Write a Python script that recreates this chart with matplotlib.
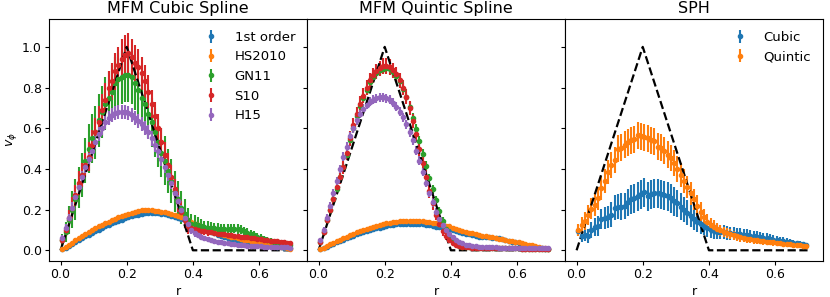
import matplotlib
matplotlib.use("Agg")
import matplotlib.pyplot as plt
import numpy as np

# radial bin centres
r = np.linspace(0.005, 0.695, 70)

# analytic Gresho vortex profile (vertices)
r_exact = [0.0, 0.2, 0.4, 0.705]
v_exact = [0.0, 1.0, 0.0, 0.0]

# ---------------- MFM cubic spline ----------------
cub_first = [0.004, 0.012, 0.021, 0.031, 0.040, 0.050, 0.059, 0.068, 0.077, 0.086,
             0.094, 0.102, 0.110, 0.118, 0.125, 0.132, 0.139, 0.145, 0.151, 0.157,
             0.162, 0.167, 0.171, 0.175, 0.178, 0.181, 0.182, 0.183, 0.183, 0.182,
             0.180, 0.177, 0.174, 0.170, 0.166, 0.161, 0.155, 0.149, 0.142, 0.135,
             0.127, 0.119, 0.111, 0.104, 0.097, 0.090, 0.083, 0.077, 0.071, 0.066,
             0.061, 0.056, 0.052, 0.048, 0.044, 0.041, 0.038, 0.035, 0.032, 0.030,
             0.027, 0.025, 0.023, 0.021, 0.019, 0.017, 0.015, 0.013, 0.011, 0.009]
cub_hs = [0.006, 0.016, 0.027, 0.038, 0.049, 0.060, 0.070, 0.080, 0.090, 0.099,
          0.108, 0.117, 0.125, 0.133, 0.141, 0.148, 0.155, 0.162, 0.168, 0.174,
          0.180, 0.185, 0.189, 0.193, 0.196, 0.197, 0.197, 0.196, 0.195, 0.193,
          0.190, 0.187, 0.183, 0.179, 0.174, 0.168, 0.162, 0.155, 0.147, 0.139,
          0.131, 0.123, 0.115, 0.108, 0.101, 0.095, 0.089, 0.084, 0.079, 0.075,
          0.071, 0.067, 0.063, 0.059, 0.055, 0.052, 0.049, 0.046, 0.043, 0.040,
          0.037, 0.034, 0.031, 0.028, 0.025, 0.022, 0.018, 0.014, 0.010, 0.006]
cub_gn = [0.05, 0.09, 0.15, 0.20, 0.25, 0.31, 0.37, 0.44, 0.50, 0.55,
          0.58, 0.64, 0.68, 0.72, 0.75, 0.78, 0.82, 0.84, 0.85, 0.86,
          0.86, 0.85, 0.82, 0.79, 0.75, 0.72, 0.67, 0.63, 0.58, 0.53,
          0.48, 0.44, 0.39, 0.34, 0.29, 0.25, 0.21, 0.18, 0.15, 0.13,
          0.130, 0.125, 0.120, 0.115, 0.112, 0.110, 0.108, 0.106, 0.105, 0.104,
          0.104, 0.105, 0.106, 0.104, 0.100, 0.094, 0.087, 0.080, 0.073, 0.066,
          0.060, 0.055, 0.050, 0.046, 0.042, 0.038, 0.034, 0.031, 0.028, 0.025]
cub_s10 = [0.05, 0.10, 0.16, 0.21, 0.27, 0.33, 0.37, 0.42, 0.46, 0.52,
           0.58, 0.63, 0.69, 0.74, 0.80, 0.83, 0.88, 0.91, 0.94, 0.96,
           0.97, 0.95, 0.92, 0.90, 0.87, 0.83, 0.78, 0.72, 0.66, 0.60,
           0.53, 0.47, 0.42, 0.36, 0.30, 0.24, 0.19, 0.15, 0.12, 0.11,
           0.105, 0.101, 0.097, 0.094, 0.091, 0.088, 0.085, 0.082, 0.080, 0.078,
           0.075, 0.073, 0.071, 0.069, 0.067, 0.065, 0.063, 0.061, 0.058, 0.056,
           0.054, 0.052, 0.050, 0.048, 0.046, 0.044, 0.042, 0.040, 0.037, 0.034]
cub_h15 = [0.06, 0.11, 0.16, 0.21, 0.26, 0.31, 0.36, 0.41, 0.45, 0.49,
           0.53, 0.57, 0.60, 0.63, 0.65, 0.665, 0.675, 0.68, 0.68, 0.68,
           0.675, 0.665, 0.65, 0.635, 0.62, 0.60, 0.58, 0.55, 0.52, 0.49,
           0.45, 0.41, 0.37, 0.33, 0.28, 0.24, 0.20, 0.16, 0.13, 0.10,
           0.085, 0.074, 0.066, 0.060, 0.055, 0.050, 0.046, 0.043, 0.040, 0.037,
           0.035, 0.032, 0.030, 0.028, 0.026, 0.025, 0.023, 0.022, 0.021, 0.020,
           0.019, 0.018, 0.017, 0.017, 0.016, 0.015, 0.015, 0.014, 0.014, 0.013]

cub_first_err = [0.003, 0.003, 0.004, 0.004, 0.004, 0.005, 0.005, 0.005, 0.005, 0.005,
                 0.005, 0.005, 0.005, 0.005, 0.005, 0.006, 0.006, 0.006, 0.006, 0.006,
                 0.006, 0.006, 0.006, 0.006, 0.006, 0.006, 0.006, 0.006, 0.006, 0.006,
                 0.006, 0.006, 0.006, 0.006, 0.006, 0.006, 0.006, 0.006, 0.006, 0.006,
                 0.006, 0.006, 0.006, 0.006, 0.005, 0.005, 0.005, 0.005, 0.005, 0.005,
                 0.005, 0.005, 0.005, 0.005, 0.005, 0.004, 0.004, 0.004, 0.004, 0.004,
                 0.004, 0.004, 0.004, 0.003, 0.003, 0.003, 0.003, 0.003, 0.003, 0.003]
cub_hs_err = cub_first_err
cub_gn_err = [0.03, 0.05, 0.07, 0.09, 0.10, 0.10, 0.11, 0.11, 0.12, 0.12,
              0.13, 0.13, 0.13, 0.13, 0.13, 0.13, 0.13, 0.13, 0.13, 0.13,
              0.13, 0.13, 0.13, 0.13, 0.13, 0.12, 0.12, 0.12, 0.12, 0.12,
              0.12, 0.12, 0.11, 0.11, 0.10, 0.09, 0.08, 0.07, 0.06, 0.05,
              0.045, 0.040, 0.035, 0.030, 0.030, 0.030, 0.028, 0.026, 0.025, 0.025,
              0.024, 0.024, 0.023, 0.023, 0.022, 0.022, 0.021, 0.021, 0.020, 0.020,
              0.018, 0.017, 0.016, 0.015, 0.014, 0.013, 0.012, 0.011, 0.010, 0.010]
cub_s10_err = [0.02, 0.03, 0.04, 0.05, 0.05, 0.06, 0.06, 0.06, 0.07, 0.07,
               0.07, 0.08, 0.08, 0.08, 0.08, 0.09, 0.09, 0.09, 0.10, 0.10,
               0.10, 0.09, 0.09, 0.09, 0.08, 0.08, 0.08, 0.07, 0.07, 0.07,
               0.07, 0.06, 0.06, 0.06, 0.05, 0.05, 0.05, 0.04, 0.04, 0.03,
               0.030, 0.025, 0.020, 0.020, 0.020, 0.015, 0.015, 0.015, 0.012, 0.012,
               0.011, 0.011, 0.010, 0.010, 0.010, 0.010, 0.009, 0.009, 0.009, 0.009,
               0.008, 0.008, 0.008, 0.008, 0.007, 0.007, 0.007, 0.007, 0.006, 0.006]
cub_h15_err = [0.015, 0.02, 0.02, 0.025, 0.025, 0.03, 0.03, 0.03, 0.03, 0.03,
               0.03, 0.035, 0.035, 0.035, 0.035, 0.035, 0.035, 0.035, 0.035, 0.035,
               0.035, 0.035, 0.035, 0.035, 0.035, 0.035, 0.035, 0.035, 0.035, 0.035,
               0.035, 0.03, 0.03, 0.03, 0.03, 0.03, 0.025, 0.025, 0.02, 0.02,
               0.018, 0.016, 0.014, 0.012, 0.011, 0.010, 0.010, 0.009, 0.009, 0.008,
               0.008, 0.008, 0.007, 0.007, 0.007, 0.006, 0.006, 0.006, 0.006, 0.005,
               0.005, 0.005, 0.005, 0.005, 0.005, 0.004, 0.004, 0.004, 0.004, 0.004]

# ---------------- MFM quintic spline ----------------
qui_first = [0.004, 0.011, 0.018, 0.025, 0.032, 0.039, 0.046, 0.053, 0.059, 0.066,
             0.072, 0.078, 0.084, 0.089, 0.094, 0.099, 0.104, 0.108, 0.112, 0.116,
             0.119, 0.122, 0.125, 0.127, 0.129, 0.130, 0.131, 0.131, 0.131, 0.130,
             0.129, 0.127, 0.125, 0.122, 0.119, 0.116, 0.113, 0.110, 0.106, 0.102,
             0.098, 0.094, 0.090, 0.086, 0.082, 0.078, 0.074, 0.070, 0.067, 0.065,
             0.064, 0.063, 0.062, 0.060, 0.058, 0.055, 0.051, 0.047, 0.043, 0.039,
             0.035, 0.031, 0.027, 0.023, 0.019, 0.016, 0.013, 0.010, 0.007, 0.005]
qui_hs = [0.005, 0.013, 0.021, 0.029, 0.037, 0.045, 0.053, 0.060, 0.067, 0.074,
          0.081, 0.088, 0.094, 0.100, 0.106, 0.111, 0.116, 0.121, 0.125, 0.129,
          0.132, 0.135, 0.138, 0.140, 0.142, 0.143, 0.144, 0.145, 0.145, 0.144,
          0.143, 0.142, 0.140, 0.138, 0.135, 0.132, 0.129, 0.125, 0.121, 0.117,
          0.112, 0.107, 0.102, 0.097, 0.092, 0.087, 0.083, 0.079, 0.075, 0.072,
          0.069, 0.066, 0.063, 0.060, 0.057, 0.054, 0.051, 0.048, 0.045, 0.042,
          0.039, 0.036, 0.032, 0.028, 0.024, 0.020, 0.016, 0.012, 0.009, 0.006]
qui_gn = [0.04, 0.09, 0.15, 0.20, 0.25, 0.30, 0.36, 0.41, 0.47, 0.54,
          0.60, 0.66, 0.71, 0.75, 0.79, 0.825, 0.85, 0.87, 0.885, 0.89,
          0.895, 0.89, 0.875, 0.855, 0.83, 0.795, 0.755, 0.705, 0.65, 0.595,
          0.535, 0.475, 0.415, 0.355, 0.30, 0.245, 0.195, 0.145, 0.105, 0.07,
          0.045, 0.030, 0.022, 0.018, 0.016, 0.015, 0.014, 0.013, 0.013, 0.012,
          0.012, 0.011, 0.011, 0.011, 0.010, 0.010, 0.010, 0.009, 0.009, 0.009,
          0.009, 0.008, 0.008, 0.008, 0.007, 0.007, 0.007, 0.006, 0.006, 0.006]
qui_s10 = [0.04, 0.09, 0.15, 0.20, 0.25, 0.31, 0.36, 0.41, 0.48, 0.55,
           0.615, 0.67, 0.72, 0.76, 0.80, 0.835, 0.86, 0.88, 0.895, 0.905,
           0.905, 0.90, 0.885, 0.865, 0.835, 0.80, 0.755, 0.70, 0.635, 0.57,
           0.50, 0.43, 0.36, 0.29, 0.23, 0.175, 0.13, 0.095, 0.07, 0.05,
           0.035, 0.025, 0.020, 0.017, 0.015, 0.014, 0.013, 0.013, 0.012, 0.012,
           0.011, 0.011, 0.011, 0.010, 0.010, 0.010, 0.010, 0.009, 0.009, 0.009,
           0.009, 0.008, 0.008, 0.008, 0.007, 0.007, 0.007, 0.006, 0.006, 0.006]
qui_h15 = [0.05, 0.10, 0.16, 0.22, 0.28, 0.34, 0.40, 0.46, 0.51, 0.56,
           0.60, 0.64, 0.67, 0.695, 0.715, 0.73, 0.74, 0.748, 0.752, 0.752,
           0.748, 0.74, 0.725, 0.705, 0.68, 0.655, 0.62, 0.58, 0.54, 0.49,
           0.44, 0.385, 0.33, 0.28, 0.235, 0.19, 0.155, 0.125, 0.10, 0.08,
           0.065, 0.052, 0.042, 0.034, 0.028, 0.024, 0.021, 0.019, 0.017, 0.016,
           0.015, 0.015, 0.014, 0.014, 0.013, 0.013, 0.013, 0.012, 0.012, 0.012,
           0.012, 0.011, 0.011, 0.011, 0.010, 0.010, 0.010, 0.009, 0.009, 0.009]

qui_first_err = cub_first_err
qui_hs_err = cub_first_err
qui_gn_err = [0.010, 0.012, 0.014, 0.016, 0.018, 0.020, 0.020, 0.022, 0.022, 0.024,
              0.024, 0.025, 0.025, 0.025, 0.025, 0.025, 0.025, 0.025, 0.025, 0.025,
              0.025, 0.025, 0.025, 0.025, 0.025, 0.025, 0.025, 0.025, 0.025, 0.025,
              0.025, 0.024, 0.024, 0.022, 0.022, 0.020, 0.020, 0.018, 0.016, 0.014,
              0.012, 0.010, 0.008, 0.007, 0.006, 0.006, 0.005, 0.005, 0.005, 0.005,
              0.004, 0.004, 0.004, 0.004, 0.004, 0.004, 0.004, 0.004, 0.003, 0.003,
              0.003, 0.003, 0.003, 0.003, 0.003, 0.003, 0.003, 0.003, 0.003, 0.003]
qui_s10_err = [0.015, 0.02, 0.022, 0.025, 0.028, 0.03, 0.032, 0.034, 0.035, 0.035,
               0.036, 0.036, 0.037, 0.037, 0.038, 0.038, 0.038, 0.038, 0.038, 0.038,
               0.038, 0.038, 0.038, 0.038, 0.038, 0.037, 0.037, 0.036, 0.036, 0.035,
               0.035, 0.034, 0.033, 0.032, 0.030, 0.028, 0.026, 0.024, 0.020, 0.016,
               0.013, 0.010, 0.008, 0.007, 0.006, 0.006, 0.005, 0.005, 0.005, 0.005,
               0.004, 0.004, 0.004, 0.004, 0.004, 0.004, 0.004, 0.004, 0.003, 0.003,
               0.003, 0.003, 0.003, 0.003, 0.003, 0.003, 0.003, 0.003, 0.003, 0.003]
qui_h15_err = [0.012, 0.015, 0.017, 0.018, 0.019, 0.02, 0.02, 0.021, 0.021, 0.022,
               0.022, 0.022, 0.022, 0.022, 0.022, 0.022, 0.022, 0.022, 0.022, 0.022,
               0.022, 0.022, 0.022, 0.022, 0.022, 0.022, 0.022, 0.022, 0.022, 0.022,
               0.022, 0.021, 0.021, 0.020, 0.020, 0.018, 0.017, 0.016, 0.014, 0.012,
               0.011, 0.010, 0.009, 0.008, 0.007, 0.006, 0.006, 0.005, 0.005, 0.005,
               0.004, 0.004, 0.004, 0.004, 0.004, 0.004, 0.004, 0.004, 0.003, 0.003,
               0.003, 0.003, 0.003, 0.003, 0.003, 0.003, 0.003, 0.003, 0.003, 0.003]

# ---------------- SPH ----------------
sph_cubic = [0.095, 0.070, 0.075, 0.070, 0.100, 0.115, 0.120, 0.155, 0.160, 0.165,
             0.175, 0.210, 0.215, 0.215, 0.218, 0.235, 0.250, 0.255, 0.265, 0.275,
             0.285, 0.265, 0.275, 0.280, 0.280, 0.275, 0.270, 0.265, 0.255, 0.240,
             0.230, 0.215, 0.200, 0.185, 0.170, 0.155, 0.140, 0.130, 0.120, 0.110,
             0.100, 0.095, 0.092, 0.090, 0.088, 0.086, 0.084, 0.082, 0.080, 0.079,
             0.077, 0.075, 0.072, 0.070, 0.067, 0.064, 0.061, 0.058, 0.055, 0.052,
             0.049, 0.046, 0.044, 0.041, 0.039, 0.036, 0.034, 0.031, 0.029, 0.027]
sph_quintic = [0.100, 0.125, 0.145, 0.175, 0.205, 0.225, 0.255, 0.305, 0.340, 0.385,
               0.420, 0.445, 0.500, 0.505, 0.520, 0.530, 0.540, 0.545, 0.565, 0.560,
               0.555, 0.550, 0.540, 0.535, 0.510, 0.505, 0.490, 0.470, 0.455, 0.430,
               0.400, 0.370, 0.340, 0.310, 0.280, 0.250, 0.220, 0.190, 0.165, 0.140,
               0.125, 0.115, 0.105, 0.098, 0.090, 0.085, 0.080, 0.074, 0.068, 0.064,
               0.060, 0.057, 0.054, 0.051, 0.049, 0.047, 0.045, 0.043, 0.041, 0.039,
               0.037, 0.035, 0.033, 0.031, 0.029, 0.027, 0.026, 0.024, 0.022, 0.021]
sph_cubic_err = [0.020, 0.030, 0.030, 0.035, 0.040, 0.045, 0.050, 0.050, 0.055, 0.055,
                 0.060, 0.060, 0.060, 0.065, 0.065, 0.065, 0.070, 0.070, 0.070, 0.070,
                 0.070, 0.070, 0.070, 0.070, 0.070, 0.070, 0.070, 0.070, 0.070, 0.070,
                 0.065, 0.065, 0.060, 0.060, 0.055, 0.055, 0.050, 0.050, 0.045, 0.045,
                 0.040, 0.040, 0.038, 0.036, 0.034, 0.033, 0.032, 0.031, 0.030, 0.030,
                 0.029, 0.028, 0.028, 0.027, 0.026, 0.026, 0.025, 0.025, 0.024, 0.024,
                 0.022, 0.021, 0.020, 0.018, 0.017, 0.016, 0.014, 0.013, 0.012, 0.010]
sph_quintic_err = [0.030, 0.040, 0.045, 0.050, 0.050, 0.055, 0.055, 0.060, 0.060, 0.060,
                   0.065, 0.065, 0.065, 0.065, 0.065, 0.065, 0.065, 0.065, 0.065, 0.065,
                   0.065, 0.065, 0.065, 0.065, 0.065, 0.065, 0.065, 0.065, 0.065, 0.065,
                   0.065, 0.060, 0.060, 0.055, 0.055, 0.050, 0.050, 0.045, 0.040, 0.040,
                   0.035, 0.033, 0.030, 0.028, 0.026, 0.025, 0.024, 0.023, 0.022, 0.021,
                   0.020, 0.020, 0.019, 0.019, 0.018, 0.018, 0.017, 0.017, 0.016, 0.016,
                   0.015, 0.014, 0.014, 0.013, 0.012, 0.012, 0.011, 0.011, 0.010, 0.010]

mfm_labels = ["1st order", "HS2010", "GN11", "S10", "H15"]
sph_labels = ["Cubic", "Quintic"]

plt.rcParams['font.size'] = 9
plt.rcParams['xtick.major.size'] = 2.6
plt.rcParams['ytick.major.size'] = 2.6
plt.rcParams['xtick.major.pad'] = 2.6
plt.rcParams['ytick.major.pad'] = 2.6

fig, axes = plt.subplots(1, 3, figsize=(8.3, 2.97), dpi=100, sharey=True)
fig.subplots_adjust(left=0.059, right=0.9916, top=0.936, bottom=0.121, wspace=0)

cub_series = [(cub_first, cub_first_err), (cub_hs, cub_hs_err), (cub_gn, cub_gn_err),
              (cub_s10, cub_s10_err), (cub_h15, cub_h15_err)]
qui_series = [(qui_first, qui_first_err), (qui_hs, qui_hs_err), (qui_gn, qui_gn_err),
              (qui_s10, qui_s10_err), (qui_h15, qui_h15_err)]
sph_series = [(sph_cubic, sph_cubic_err), (sph_quintic, sph_quintic_err)]

for ax, series, labels, title in [(axes[0], cub_series, mfm_labels, "MFM Cubic Spline"),
                                  (axes[1], qui_series, mfm_labels, "MFM Quintic Spline"),
                                  (axes[2], sph_series, sph_labels, "SPH")]:
    for (v, e), lab in zip(series, labels):
        ax.errorbar(r, v, yerr=e, fmt='.', ms=6, label=lab)
    ax.plot(r_exact, v_exact, 'k--', lw=1.6)
    ax.set_title(title, fontsize=11.5, pad=4)
    ax.set_xlabel("r", labelpad=3)
    ax.set_xticks([0.0, 0.2, 0.4, 0.6])

axes[0].set_ylabel(r"$v_\phi$", labelpad=2)
for ax in axes:
    ax.set_xlim(-0.035, 0.745)
axes[0].set_ylim(-0.053, 1.137)
axes[0].legend(loc='upper right', frameon=False, fontsize=9.5)
axes[2].legend(loc='upper right', frameon=False, fontsize=9.5)

fig.savefig("out.png", dpi=100)
